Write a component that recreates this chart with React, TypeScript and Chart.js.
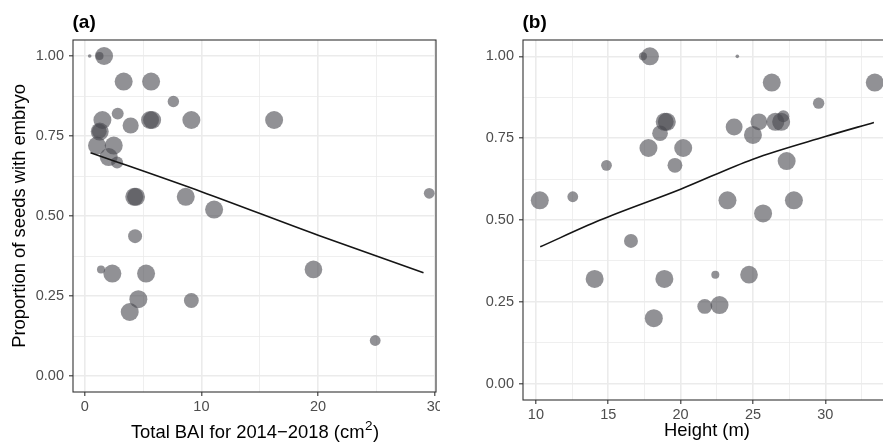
import React, { useEffect, useRef } from "react";
import { Chart, registerables } from "chart.js";

Chart.register(...registerables);

// ---------- data ----------
// Panel (a): total BAI 2014-2018 (cm²) vs proportion of seeds with embryo
const baiX = [0.43, 1.66, 1.27, 3.34, 5.69, 7.6, 1.52, 2.83, 3.94, 5.6, 5.78, 9.14, 16.23, 1.29, 1.25, 1.06, 2.49, 2.06, 2.78, 4.25, 4.4, 8.66, 11.09, 29.52, 4.32, 1.4, 2.37, 5.26, 19.6, 4.6, 9.14, 3.86, 24.89];
const baiProp = [1.0, 1.0, 1.0, 0.92, 0.92, 0.858, 0.8, 0.82, 0.783, 0.8, 0.8, 0.8, 0.8, 0.764, 0.765, 0.72, 0.72, 0.684, 0.667, 0.56, 0.56, 0.56, 0.52, 0.571, 0.437, 0.333, 0.32, 0.32, 0.333, 0.24, 0.236, 0.2, 0.111];
const baiSeeds = [1, 25, 5, 25, 25, 10, 25, 11, 20, 25, 25, 25, 25, 25, 17, 25, 25, 25, 11, 25, 25, 25, 25, 9, 15, 5, 25, 25, 24, 25, 17, 25, 9];
const baiFitX = [0.5, 10, 20, 29.03];
const baiFitY = [0.698, 0.576, 0.44, 0.323];

// Panel (b): height (m) vs proportion of seeds with embryo
const heightX = [10.27, 12.55, 14.88, 17.4, 17.88, 23.92, 26.3, 33.42, 29.54, 18.9, 19.05, 18.58, 17.78, 20.18, 19.61, 23.7, 25.41, 25.0, 26.55, 26.95, 27.1, 27.33, 23.24, 27.83, 25.7, 16.57, 14.06, 18.88, 22.4, 24.73, 21.67, 22.69, 18.15];
const heightProp = [0.56, 0.571, 0.667, 1.0, 1.0, 1.0, 0.92, 0.92, 0.857, 0.8, 0.8, 0.765, 0.72, 0.72, 0.667, 0.784, 0.8, 0.76, 0.8, 0.8, 0.817, 0.68, 0.56, 0.56, 0.52, 0.436, 0.32, 0.32, 0.333, 0.333, 0.236, 0.24, 0.2];
const heightSeeds = [25, 9, 9, 5, 25, 1, 25, 25, 10, 25, 25, 19, 25, 25, 17, 22, 22, 25, 25, 25, 11, 25, 25, 25, 25, 15, 25, 25, 5, 24, 17, 25, 25];
const heightFitX = [10.3, 14.4, 20, 25, 30, 33.36];
const heightFitY = [0.418, 0.499, 0.594, 0.686, 0.755, 0.798];

// tick labels
const propTicks = [0, 0.25, 0.5, 0.75, 1.0];
const baiTicks = [0, 10, 20, 30];
const heightTicks = [10, 15, 20, 25, 30];

// ---------- styling ----------
const FONT = "'Liberation Sans', Arial, Helvetica, sans-serif";
const H = 443;
const TICK_COLOR = "#4d4d4d";
const GRID_COLOR = "#ebebeb";

function gridValues(major: number[], min: number, max: number) {
  const step = major[1] - major[0];
  const out: number[] = [];
  for (let v = major[0] - step; v <= major[major.length - 1] + step + 1e-9; v += step / 2) {
    if (v >= min - 1e-9 && v <= max + 1e-9) out.push(Math.round(v * 1000) / 1000);
  }
  return out;
}
const isMajor = (major: number[], v: number) => major.some((m) => Math.abs(m - v) < 1e-9);
const radius = (n: number) => 1.8 * Math.sqrt(n);

const panelPlugin = {
  id: "panelDecor",
  afterDatasetsDraw(chart: any) {
    const { ctx, chartArea: a } = chart;
    ctx.save();
    ctx.strokeStyle = "#333333";
    ctx.lineWidth = 1.1;
    ctx.strokeRect(a.left, a.top, a.right - a.left, a.bottom - a.top);
    ctx.restore();
  },
  afterDraw(chart: any, _args: any, opts: any) {
    const { ctx, chartArea: a } = chart;
    ctx.save();
    ctx.fillStyle = "#000";
    ctx.font = `bold 19px ${FONT}`;
    ctx.textAlign = "left";
    ctx.textBaseline = "alphabetic";
    ctx.fillText(opts.tag, a.left - 0.5, 27.7);
    // x-axis title with a true superscript, when given in parts
    if (opts.xTitleParts) {
      const [main, sup, tail] = opts.xTitleParts as string[];
      const big = `18.4px ${FONT}`;
      const small = `13.5px ${FONT}`;
      ctx.font = big;
      const w1 = ctx.measureText(main).width;
      const w3 = ctx.measureText(tail).width;
      ctx.font = small;
      const w2 = ctx.measureText(sup).width;
      const cx = (a.left + a.right) / 2;
      let x = cx - (w1 + w2 + w3) / 2;
      const base = 438;
      ctx.font = big;
      ctx.fillText(main, x, base);
      x += w1 + 0.5;
      ctx.font = small;
      ctx.fillText(sup, x, base - 8.5);
      x += w2 + 0.5;
      ctx.font = big;
      ctx.fillText(tail, x, base);
    }
    ctx.restore();
  },
};

type PanelCfg = {
  xs: number[];
  ys: number[];
  ns: number[];
  fitX: number[];
  fitY: number[];
  xMin: number;
  xMax: number;
  xTicks: number[];
  xTitle: string | null;
  xTitleParts: string[] | null;
  yTitle: string | null;
  tag: string;
  canvasW: number;
  chartLeft: number;
  chartRight: number;
  chartBottom: number;
  xTitlePad: number;
};

function makeChart(canvas: HTMLCanvasElement, c: PanelCfg) {
  const yMin = -0.05;
  const yMax = 1.05;
  const xGrid = gridValues(c.xTicks, c.xMin, c.xMax);
  const yGrid = gridValues(propTicks, yMin, yMax);
  const xMajor = (ctx: any) => isMajor(c.xTicks, ctx.tick?.value);
  const yMajor = (ctx: any) => isMajor(propTicks, ctx.tick?.value);

  return new Chart(canvas, {
    type: "scatter",
    data: {
      datasets: [
        {
          type: "line",
          data: c.fitX.map((x, i) => ({ x, y: c.fitY[i] })),
          borderColor: "#151515",
          borderWidth: 1.6,
          pointRadius: 0,
          fill: false,
          cubicInterpolationMode: "monotone",
          order: 0,
        } as any,
        {
          type: "scatter",
          data: c.xs.map((x, i) => ({ x, y: c.ys[i] })),
          pointRadius: c.ns.map(radius),
          pointHoverRadius: c.ns.map(radius),
          backgroundColor: "rgba(72,72,78,0.6)",
          pointBackgroundColor: "rgba(72,72,78,0.6)",
          borderWidth: 0,
          pointBorderWidth: 0,
          order: 1,
        } as any,
      ],
    },
    options: {
      responsive: false,
      animation: false,
      events: [],
      layout: { padding: { top: 40, left: 0, right: c.canvasW - c.chartRight, bottom: 0 } },
      plugins: {
        legend: { display: false },
        tooltip: { enabled: false },
        panelDecor: { tag: c.tag, xTitleParts: c.xTitleParts },
      } as any,
      scales: {
        x: {
          type: "linear",
          min: c.xMin,
          max: c.xMax,
          afterBuildTicks: (s: any) => {
            s.ticks = xGrid.map((v) => ({ value: v }));
          },
          afterFit: (s: any) => {
            s.height = H - c.chartBottom;
            s.paddingLeft = 0;
            s.paddingRight = 0;
          },
          ticks: {
            autoSkip: false,
            maxRotation: 0,
            minRotation: 0,
            padding: 2,
            color: TICK_COLOR,
            font: { family: FONT, size: 14.5 },
            callback: (v: any) => (isMajor(c.xTicks, Number(v)) ? String(v) : ""),
          },
          grid: {
            color: GRID_COLOR,
            lineWidth: (ctx: any) => (xMajor(ctx) ? 1.6 : 0.8),
            tickColor: (ctx: any) => (xMajor(ctx) ? "#333333" : "rgba(0,0,0,0)"),
            tickWidth: 1.1,
            tickLength: 4,
          },
          border: { display: false },
          title: {
            display: !!c.xTitle,
            text: c.xTitle || "",
            color: "#000",
            font: { family: FONT, size: 18.4 },
            padding: { top: 0, bottom: c.xTitlePad },
          },
        } as any,
        y: {
          type: "linear",
          min: yMin,
          max: yMax,
          afterBuildTicks: (s: any) => {
            s.ticks = yGrid.map((v) => ({ value: v }));
          },
          afterFit: (s: any) => {
            s.width = c.chartLeft;
            s.paddingTop = 0;
            s.paddingBottom = 0;
          },
          ticks: {
            autoSkip: false,
            padding: 5,
            color: TICK_COLOR,
            font: { family: FONT, size: 14.5 },
            callback: (v: any) => (isMajor(propTicks, Number(v)) ? Number(v).toFixed(2) : ""),
          },
          grid: {
            color: GRID_COLOR,
            lineWidth: (ctx: any) => (yMajor(ctx) ? 1.6 : 0.8),
            tickColor: (ctx: any) => (yMajor(ctx) ? "#333333" : "rgba(0,0,0,0)"),
            tickWidth: 1.1,
            tickLength: 4,
          },
          border: { display: false },
          title: {
            display: !!c.yTitle,
            text: c.yTitle || "",
            color: "#000",
            font: { family: FONT, size: 18.4 },
            padding: { top: 9, bottom: 0 },
          },
        } as any,
      },
    },
    plugins: [panelPlugin as any],
  });
}

export default function App() {
  const refA = useRef<HTMLCanvasElement>(null);
  const refB = useRef<HTMLCanvasElement>(null);

  useEffect(() => {
    const a = makeChart(refA.current!, {
      xs: baiX,
      ys: baiProp,
      ns: baiSeeds,
      fitX: baiFitX,
      fitY: baiFitY,
      xMin: -1.0,
      xMax: 30.1,
      xTicks: baiTicks,
      xTitle: null,
      xTitleParts: ["Total BAI for 2014\u22122018 (cm", "2", ")"],
      yTitle: "Proportion of seeds with embryo",
      tag: "(a)",
      canvasW: 460,
      chartLeft: 73,
      chartRight: 436,
      chartBottom: 392,
      xTitlePad: 0,
    });
    const b = makeChart(refB.current!, {
      xs: heightX,
      ys: heightProp,
      ns: heightSeeds,
      fitX: heightFitX,
      fitY: heightFitY,
      xMin: 9.11,
      xMax: 34.54,
      xTicks: heightTicks,
      xTitle: "Height (m)",
      xTitleParts: null,
      yTitle: null,
      tag: "(b)",
      canvasW: 460,
      chartLeft: 83,
      chartRight: 454,
      chartBottom: 400,
      xTitlePad: 1.5,
    });
    return () => {
      a.destroy();
      b.destroy();
    };
  }, []);

  return (
    <div
      style={{
        position: "fixed",
        left: 0,
        top: 0,
        width: 883,
        height: H,
        overflow: "hidden",
        background: "#fff",
      }}
    >
      <div style={{ position: "absolute", left: 0, top: 0, width: 440, height: H, overflow: "hidden" }}>
        <canvas ref={refA} width={460} height={H} style={{ display: "block" }} />
      </div>
      <div style={{ position: "absolute", left: 440, top: 0, width: 443, height: H, overflow: "hidden" }}>
        <canvas ref={refB} width={460} height={H} style={{ display: "block" }} />
      </div>
    </div>
  );
}
